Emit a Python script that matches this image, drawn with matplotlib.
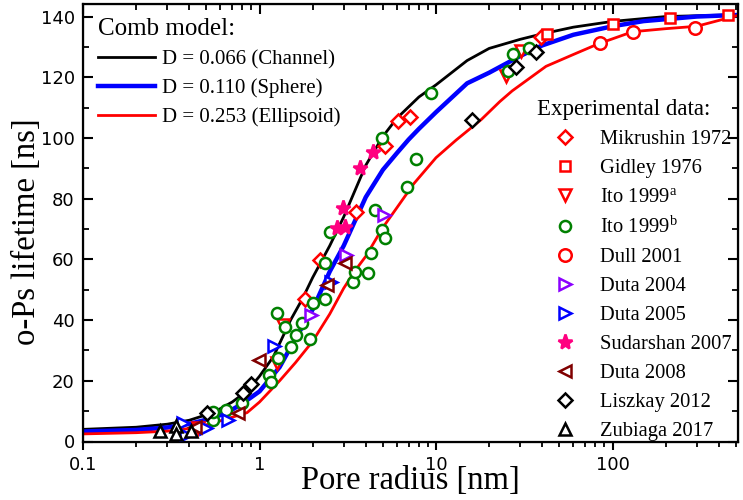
import numpy as np
import matplotlib
matplotlib.use("Agg")
import matplotlib.pyplot as plt

plt.rcParams['mathtext.fontset'] = 'custom'
plt.rcParams['mathtext.rm'] = 'Liberation Serif'
plt.rcParams['mathtext.it'] = 'Liberation Serif:italic'
SERIF = 'Liberation Serif'
SANS = 'DejaVu Sans'

# comb model curves
chan_x = [0.1, 0.2, 0.3, 0.4, 0.5, 0.6, 0.7, 0.8, 0.9, 1.0, 1.2, 1.5, 1.75, 2.0, 2.5, 3.0, 4.0, 5.0, 6.0, 8.0,
          10, 15, 20, 30, 40, 60, 100, 200, 500]
chan_y = [4.0, 4.7, 5.7, 7.0, 8.8, 10.8, 13.0, 15.5, 18.3, 21.5, 28, 40, 47, 54, 64.5, 74, 91, 100.5, 106.5, 113.5,
          117.5, 125.5, 129.5, 132.5, 134.3, 136.5, 138.4, 140, 140.6]
sph_x = [0.1, 0.2, 0.3, 0.4, 0.5, 0.6, 0.7, 0.8, 1.0, 1.3, 1.6, 2.0, 2.5, 3.0, 4.0, 5.0, 6.0, 7.0, 8.0, 10,
         15, 20, 30, 40, 60, 100, 150, 300, 500]
sph_y = [3.3, 3.8, 4.6, 5.8, 7.2, 8.7, 10.5, 12.5, 16.5, 24.5, 34, 43.5, 56, 64.5, 80.5, 89.5, 95, 99.5, 103, 108.5,
         118, 121.5, 127, 130.5, 134, 136.8, 138.5, 140, 140.5]
ell_x = [0.1, 0.2, 0.3, 0.4, 0.5, 0.6, 0.7, 0.85, 1.0, 1.3, 1.6, 2.0, 2.5, 3.0, 3.5, 4.0, 5.0, 6.0, 7.5, 10,
         13, 18, 23, 27, 42, 60, 83, 130, 200, 300, 500]
ell_y = [2.5, 2.9, 3.4, 4.3, 5.5, 6.8, 8.0, 9.5, 13, 20, 26, 33, 42, 50.5, 56.5, 61, 70.5, 77, 85, 93.5,
         99.3, 106, 112, 115.5, 123.6, 127.5, 131, 135, 136, 136.8, 140.2]

# experimental data
mik_x = [1.81, 2.20, 3.52, 5.14, 6.1, 7.13, 39.3]
mik_y = [47.0, 59.8, 75.7, 97.5, 105.5, 107.0, 133.4]
gid_x = [42.4, 101, 212, 453]
gid_y = [134.3, 137.6, 139.4, 140.5]
itoa_x = [0.45, 1.25, 1.36, 25.0, 30.5]
itoa_y = [4.5, 26.0, 38.5, 120.5, 128.5]
itob_x = [0.547, 0.547, 0.65, 0.80, 1.13, 1.16, 1.25, 1.28, 1.39, 1.51, 1.62, 1.75, 1.93, 2.02, 2.34, 2.34,
          2.51, 3.38, 3.46, 4.12, 4.29, 4.5, 4.96, 5.14, 4.96, 6.83, 7.7, 9.33, 25.5, 27.3, 33.8]
itob_y = [7.1, 9.8, 10.4, 12.6, 21.9, 19.7, 42.2, 27.4, 37.6, 31.0, 35.1, 38.9, 33.7, 45.5, 46.9, 58.7,
          69.1, 52.7, 55.9, 55.4, 62.0, 76.3, 69.7, 67.0, 99.9, 83.8, 93.0, 114.7, 122.2, 127.5, 129.5]
dull_x = [84.7, 131, 293]
dull_y = [131.2, 135.0, 136.1]
d04_x = [1.96, 3.1, 5.05]
d04_y = [41.7, 61.4, 74.6]
d05_x = [0.37, 0.385, 0.50, 0.66, 1.21, 2.55]
d05_y = [6.0, 2.1, 4.3, 7.0, 31.5, 52.7]
sud_x = [2.75, 3.05, 2.98, 3.72, 4.4]
sud_y = [70.2, 70.8, 76.8, 90.0, 95.5]
d08_x = [0.43, 0.76, 0.99, 2.40, 3.05]
d08_y = [4.8, 9.3, 26.9, 51.5, 58.7]
lis_x = [0.505, 0.81, 0.90, 15.9, 28.3, 37.0]
lis_y = [9.3, 16.0, 18.9, 105.9, 123.5, 128.3]
zub_x = [0.273, 0.337, 0.337, 0.41]
zub_y = [3.6, 5.1, 2.5, 3.6]

fig = plt.figure(figsize=(7.43, 5.0), dpi=100)
ax = fig.add_axes([83 / 743, 1 - 441.5 / 500, (738 - 83) / 743, (441.5 - 3.5) / 500])

l1, = ax.plot(chan_x, chan_y, color='black', lw=2.0, zorder=2)
l2, = ax.plot(sph_x, sph_y, color='#0000ff', lw=3.2, zorder=2)
l3, = ax.plot(ell_x, ell_y, color='#ff0000', lw=2.0, zorder=2)

series = [
    (mik_x, mik_y, 'D', '#ff0000', 7.5, 'Mikrushin 1972'),
    (gid_x, gid_y, 's', '#ff0000', 7, 'Gidley 1976'),
    (itoa_x, itoa_y, 'v', '#ff0000', 9, r'Ito 1999$^{\mathrm{a}}$'),
    (itob_x, itob_y, 'o', '#008000', 8, r'Ito 1999$^{\mathrm{b}}$'),
    (dull_x, dull_y, 'o', '#ff0000', 9, 'Dull 2001'),
    (d04_x, d04_y, '>', '#8b00ff', 9, 'Duta 2004'),
    (d05_x, d05_y, '>', '#0000ff', 9, 'Duta 2005'),
    (sud_x, sud_y, '*', '#ff0080', 11, 'Sudarshan 2007'),
    (d08_x, d08_y, '<', '#800000', 9, 'Duta 2008'),
    (lis_x, lis_y, 'D', 'black', 7.5, 'Liszkay 2012'),
    (zub_x, zub_y, '^', 'black', 9, 'Zubiaga 2017'),
]
handles = []
for xs, ys, m, c, ms, lab in series:
    h, = ax.plot(xs, ys, ls='none', marker=m, ms=ms, mfc='white' if m != '*' else c,
                 mec=c, mew=1.8, zorder=3, label=lab)
    handles.append(h)

ax.set_xscale('log')
ax.set_xlim(0.1, 514)
ax.set_ylim(0, 144.3)
ax.set_yticks(range(0, 141, 20))
ax.set_yticks(range(10, 141, 20), minor=True)
ax.set_xticks([0.1, 1, 10, 100])
ax.set_xticklabels(['0.1', '1', '10', '100'])

for s in ax.spines.values():
    s.set_linewidth(1.6)
ax.tick_params(axis='x', which='major', direction='out', length=6, width=1.5,
               labelsize=13, pad=4.5, top=False)
ax.tick_params(axis='x', which='minor', direction='out', length=3.5, width=1.3, top=False)
ax.tick_params(axis='y', which='major', direction='in', length=7, width=1.5,
               labelsize=13, pad=6, right=True)
ax.tick_params(axis='y', which='minor', direction='in', length=4, width=1.3, right=True)
for lab in ax.get_xticklabels() + ax.get_yticklabels():
    lab.set_family(SANS)

top = ax.twiny()
top.set_xscale('log')
top.set_xlim(ax.get_xlim())
top.set_xticks([0.1, 1, 10, 100])
top.tick_params(axis='x', which='major', direction='in', length=7, width=1.5, labeltop=False)
top.tick_params(axis='x', which='minor', direction='in', length=4, width=1.3)

ax.set_xlabel('Pore radius [nm]', family=SERIF, fontsize=23.5)
ax.xaxis.set_label_coords(0.5, -0.054)
ax.set_ylabel('o-Ps lifetime [ns]', family=SERIF, fontsize=23.5)
ax.yaxis.set_label_coords(-0.062, 0.478)

leg1 = ax.legend([l1, l2, l3],
                 ['D = 0.066 (Channel)', 'D = 0.110 (Sphere)', 'D = 0.253 (Ellipsoid)'],
                 loc='upper left', bbox_to_anchor=(0.0, 1.0), frameon=False,
                 prop={'family': SERIF, 'size': 15}, title='Comb model:',
                 title_fontproperties={'family': SERIF, 'size': 18}, alignment='left',
                 handlelength=2.74, handletextpad=0.34, labelspacing=0.45, borderaxespad=0.3)
ax.add_artist(leg1)

leg2 = ax.legend(handles=handles, loc='lower right', bbox_to_anchor=(1.009, -0.028), frameon=False,
                 prop={'family': SERIF, 'size': 14.8}, title='Experimental data:',
                 title_fontproperties={'family': SERIF, 'size': 16.5}, alignment='left',
                 handlelength=2.69, handletextpad=0.35, labelspacing=0.47, borderaxespad=0.2)
leg2.set_zorder(5)

fig.savefig('out.png', dpi=100)
